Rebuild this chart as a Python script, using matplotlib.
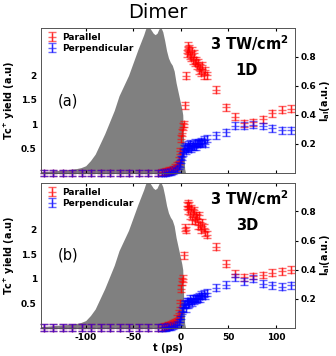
#!/usr/bin/env python3
import matplotlib
matplotlib.use('Agg')
import matplotlib.pyplot as plt

# delay times (ps), same grid for both polarisations
t_far = [-144, -134, -124, -114, -104, -94, -84, -74, -64, -54, -44, -34, -24]
t_near = [-20, -18, -16, -14, -12, -10, -8, -6, -4, -2, -1, 0, 1, 2, 3, 4, 5, 6, 7, 8,
          9, 10, 11, 12, 13, 14, 15, 16, 17, 18, 19, 20, 21, 22, 24, 25, 27,
          37, 47, 56.5, 66.5, 76, 86, 96, 106, 116]
t_ps = t_far + t_near
zeros_far = [0.0] * len(t_far)

par_1d = zeros_far + [0.02, 0.02, 0.03, 0.04, 0.05, 0.06, 0.08, 0.11, 0.15, 0.25, 0.45, 0.7, 0.82,
                      0.95, 1.0, 1.38, 1.99, 2.45, 2.6, 2.5, 2.55, 2.4, 2.35, 2.5, 2.3, 2.45, 2.25,
                      2.3, 2.2, 2.25, 2.1, 2.15, 2.05, 2.2, 2.0, 2.1, 2.0,
                      1.70, 1.34, 1.15, 1.02, 1.04, 1.10, 1.22, 1.29, 1.31]
perp_1d = zeros_far + [0.0, 0.01, 0.01, 0.02, 0.02, 0.03, 0.05, 0.07, 0.1, 0.15, 0.2, 0.28, 0.33,
                       0.42, 0.5, 0.55, 0.45, 0.52, 0.58, 0.5, 0.55, 0.6, 0.5, 0.55, 0.58, 0.55, 0.62,
                       0.55, 0.6, 0.6, 0.62, 0.6, 0.65, 0.62, 0.68, 0.6, 0.7,
                       0.77, 0.83, 0.97, 0.97, 0.99, 0.96, 0.91, 0.87, 0.87]
par_3d = zeros_far + [0.01, 0.02, 0.03, 0.04, 0.05, 0.07, 0.09, 0.12, 0.2, 0.3, 0.5, 0.8, 0.95,
                      1.0, 1.48, 2.05, 2.0, 2.5, 2.55, 2.4, 2.5, 2.3, 2.45, 2.2, 2.35, 2.4, 2.2,
                      2.3, 2.25, 2.1, 2.3, 2.1, 2.0, 2.15, 2.05, 1.95, 1.9,
                      1.66, 1.31, 1.11, 1.03, 1.06, 1.08, 1.13, 1.16, 1.19]
perp_3d = zeros_far + [0.0, 0.01, 0.01, 0.02, 0.02, 0.03, 0.04, 0.06, 0.08, 0.12, 0.18, 0.25, 0.35,
                       0.4, 0.48, 0.5, 0.4, 0.55, 0.48, 0.55, 0.5, 0.6, 0.55, 0.52, 0.6, 0.55, 0.6,
                       0.58, 0.62, 0.6, 0.65, 0.6, 0.68, 0.65, 0.7, 0.65, 0.72,
                       0.82, 0.88, 1.03, 0.95, 1.0, 0.90, 0.87, 0.84, 0.87]
yerr = 0.07

# alignment pulse intensity (gray area)
t_pulse = [-147, -140, -130, -120, -110, -105, -100, -95, -90, -85, -80, -75, -70, -65, -60,
           -55, -50, -45, -42, -39, -37, -35, -33, -31, -29, -27, -25, -23, -21, -19, -17,
           -15, -13, -11, -9, -7, -5, -3, -1, 1, 2, 3, 4, 5]
i_pulse = [0.01, 0.012, 0.018, 0.022, 0.03, 0.037, 0.05, 0.085, 0.13, 0.2, 0.27, 0.35, 0.43,
           0.53, 0.60, 0.67, 0.76, 0.85, 0.90, 0.95, 0.99, 1.0, 1.0, 0.98, 0.96, 0.95, 0.96,
           0.99, 1.0, 0.97, 0.91, 0.84, 0.79, 0.76, 0.74, 0.70, 0.62, 0.56, 0.50, 0.44, 0.40,
           0.20, 0.03, 0.0]

xticks = [-100, -50, 0, 50, 100]
yticks_left = [0.5, 1, 1.5, 2]
yticks_right = [0.2, 0.4, 0.6, 0.8]

fs = 6.5
plt.rcParams['font.family'] = 'DejaVu Sans'

fig = plt.figure(figsize=(3.36, 3.56), dpi=100)
panels = [
    ([0.122, 0.514, 0.756, 0.407], par_1d, perp_1d, '1D', '(a)'),
    ([0.122, 0.079, 0.756, 0.407], par_3d, perp_3d, '3D', '(b)'),
]

for k, (rect, par, perp, dim, tag) in enumerate(panels):
    ax = fig.add_axes(rect)
    ax2 = ax.twinx()
    ax2.fill_between(t_pulse, 0, i_pulse, color='#808080', lw=0, zorder=1)
    ax2.set_ylim(0, 0.995)
    ax2.set_yticks(yticks_right)
    ax2.set_yticklabels(['0.2', '0.4', '0.6', '0.8'], fontsize=fs, fontweight='bold')
    ax2.set_ylabel(r'I$_{\mathbf{al}}$(a.u.)', fontsize=7, fontweight='bold', labelpad=1)
    ax2.tick_params(axis='y', length=2.5, pad=1.5)

    # put data axis in front of the twin
    ax.set_zorder(ax2.get_zorder() + 1)
    ax.patch.set_visible(False)

    ax.errorbar(t_ps, par, yerr=yerr, fmt='+', color='red', alpha=0.6, ms=6, mew=1.0,
                elinewidth=1.0, capsize=2.8, capthick=1.0, label='Parallel', clip_on=False)
    ax.errorbar(t_ps, perp, yerr=yerr, fmt='+', color='blue', alpha=0.6, ms=6, mew=1.0,
                elinewidth=1.0, capsize=2.8, capthick=1.0, label='Perpendicular', clip_on=False)

    ax.set_xlim(-147, 120)
    ax.set_ylim(0, 2.96)
    ax.set_xticks(xticks)
    ax.set_yticks(yticks_left)
    ax.set_yticklabels(['0.5', '1', '1.5', '2'], fontsize=fs, fontweight='bold')
    ax.tick_params(axis='x', direction='in', top=True, length=2.5)
    ax.tick_params(axis='y', length=0, pad=3)
    if k == 0:
        ax.set_xticklabels([])
    else:
        ax.set_xticklabels([str(v) for v in xticks], fontsize=fs, fontweight='bold')
        ax.set_xlabel('t (ps)', fontsize=7, fontweight='bold', labelpad=1)
    ax.set_ylabel(r'Tc$^{\mathbf{+}}$ yield (a.u)', fontsize=7, fontweight='bold', labelpad=3)

    for side in ['top', 'bottom', 'left', 'right']:
        ax.spines[side].set_linewidth(0.6)
        ax2.spines[side].set_linewidth(0.6)
        ax.spines[side].set_color('#555555')
        ax2.spines[side].set_color('#555555')

    ax.text(0.665, 0.895, r'3 TW/cm$^{\mathbf{2}}$', transform=ax.transAxes, fontsize=10.5,
            fontweight='bold', ha='left', va='center')
    ax.text(0.81, 0.71, dim, transform=ax.transAxes, fontsize=10.5, fontweight='bold',
            ha='center', va='center')
    ax.text(0.106, 0.50, tag, transform=ax.transAxes, fontsize=10.5, ha='center', va='center')

    ax.legend(loc='upper left', frameon=False, handlelength=1.3, handletextpad=0.5,
              borderaxespad=0.15, labelspacing=0.2, prop={'size': 6.5, 'weight': 'bold'})

fig.text(0.47, 0.965, 'Dimer', fontsize=14, ha='center', va='center')

fig.savefig('out.png', dpi=100)
